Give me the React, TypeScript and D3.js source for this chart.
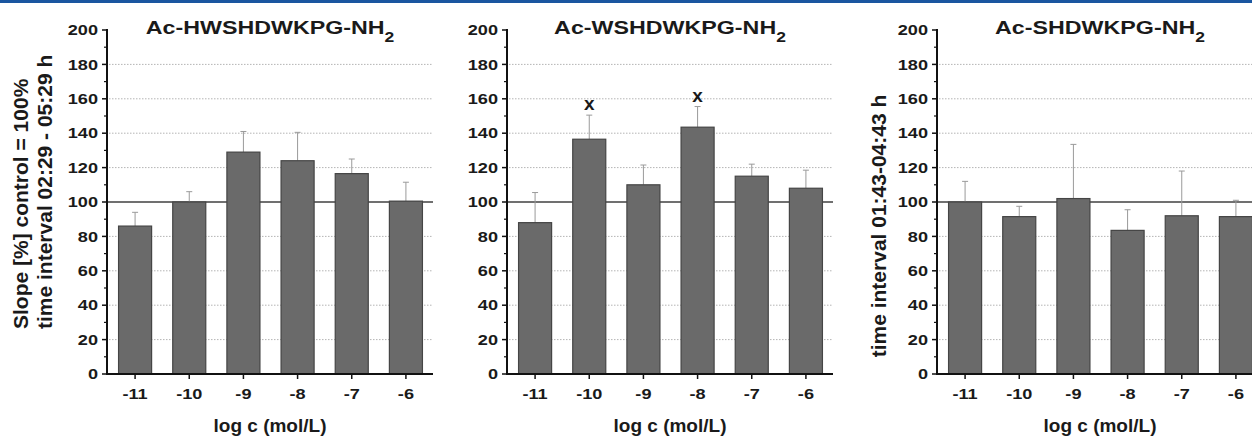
import React from "react";
import * as d3 from "d3";

const categories = ["-11", "-10", "-9", "-8", "-7", "-6"];
const titles = ["Ac-HWSHDWKPG-NH", "Ac-WSHDWKPG-NH", "Ac-SHDWKPG-NH"];
const means1 = [86, 100, 129, 124, 116.5, 100.5];
const sd1 = [8, 6, 12, 16.5, 8.5, 11];
const means2 = [88, 136.5, 110, 143.5, 115, 108];
const sd2 = [17.5, 14, 11.5, 12, 7, 10.5];
const means3 = [100, 91.5, 102, 83.5, 92, 91.5];
const sd3 = [12, 6, 31.5, 12, 26, 9.5];
const marks1 = ["", "", "", "", "", ""];
const marks2 = ["", "x", "", "x", "", ""];
const marks3 = ["", "", "", "", "", ""];
const yLabels1 = ["Slope [%] control = 100%", "time interval 02:29 - 05:29 h"];
const yLabels3 = ["time interval 01:43-04:43 h"];
const xLabel = "log c (mol/L)";
const majorTicks = d3.range(0, 201, 20);
const minorTicks = d3.range(10, 200, 20);
const gridTicks = [20, 40, 60, 80, 120, 140, 160, 180];
const refValue = 100;

const FONT = "'Liberation Sans', Arial, Helvetica, sans-serif";
const TOP = 30;
const BOTTOM = 374;
const PW = 326;
const SX = 1.25;

type PanelProps = {
  x0: number;
  title: string;
  means: number[];
  sds: number[];
  marks: string[];
};

function Panel({ x0, title, means, sds, marks }: PanelProps) {
  const y = d3.scaleLinear().domain([0, 200]).range([BOTTOM, TOP]);
  const x = d3
    .scaleBand<string>()
    .domain(categories)
    .range([x0 + 1, x0 + PW])
    .paddingInner(0.39)
    .paddingOuter(0.195);
  const bw = x.bandwidth();
  const cx = (x0 + x0 + PW) / 2;
  return (
    <g>
      {gridTicks.map((t) => (
        <line
          key={"g" + t}
          x1={x0 + 2}
          x2={x0 + PW}
          y1={y(t)}
          y2={y(t)}
          stroke="#b4b4b4"
          strokeWidth={1}
          strokeDasharray="1.5 1.5"
        />
      ))}
      <line x1={x0} x2={x0 + PW} y1={y(refValue)} y2={y(refValue)} stroke="#707070" strokeWidth={2.2} />
      {categories.map((c, i) => {
        const top = y(means[i]);
        const et = y(means[i] + sds[i]);
        const bx = x(c)!;
        const mx = bx + bw / 2;
        return (
          <g key={c}>
            <line x1={mx} x2={mx} y1={top} y2={et} stroke="#9a9a9a" strokeWidth={1} />
            <line x1={mx - 3} x2={mx + 3} y1={et} y2={et} stroke="#9a9a9a" strokeWidth={1} />
            <rect x={bx} y={top} width={bw} height={BOTTOM - top} fill="#6a6a6a" stroke="#454545" strokeWidth={1.2} />
            {marks[i] ? (
              <text x={mx} y={et - 5} textAnchor="middle" fontSize={19} fontWeight="bold" fontFamily={FONT} fill="#1a1a1a">
                {marks[i]}
              </text>
            ) : null}
          </g>
        );
      })}
      {/* y axis */}
      <line x1={x0} x2={x0} y1={y(200) - 1} y2={BOTTOM + 1} stroke="#111" strokeWidth={2} />
      {majorTicks.map((t) => (
        <g key={"mt" + t}>
          <line x1={x0 - 5} x2={x0} y1={y(t)} y2={y(t)} stroke="#111" strokeWidth={1.5} />
          <g transform={`translate(${x0 - 9},${y(t) + 5.2}) scale(${SX},1)`}>
            <text textAnchor="end" fontSize={14.5} fontWeight="bold" fontFamily={FONT} fill="#1a1a1a">
              {t}
            </text>
          </g>
        </g>
      ))}
      {minorTicks.map((t) => (
        <line key={"mn" + t} x1={x0 - 3} x2={x0} y1={y(t)} y2={y(t)} stroke="#111" strokeWidth={1.2} />
      ))}
      {/* x axis */}
      <line x1={x0 - 1} x2={x0 + PW} y1={BOTTOM} y2={BOTTOM} stroke="#111" strokeWidth={2} />
      {categories.map((c) => {
        const mx = x(c)! + bw / 2;
        return (
          <g key={"xt" + c}>
            <line x1={mx} x2={mx} y1={BOTTOM} y2={BOTTOM + 5} stroke="#111" strokeWidth={1.5} />
            <g transform={`translate(${mx},398.5) scale(${SX},1)`}>
              <text textAnchor="middle" fontSize={14.5} fontWeight="bold" fontFamily={FONT} fill="#1a1a1a">
                {c}
              </text>
            </g>
          </g>
        );
      })}
      <text x={cx} y={432} textAnchor="middle" fontSize={19} fontWeight="bold" fontFamily={FONT} fill="#1a1a1a">
        {xLabel}
      </text>
      <g transform={`translate(${cx},34) scale(${SX},1)`}>
        <text textAnchor="middle" fontSize={18.6} fontWeight="bold" fontFamily={FONT} fill="#1a1a1a">
          {title}
          <tspan dy={7.5} fontSize={14}>
            2
          </tspan>
        </text>
      </g>
    </g>
  );
}

export default function App() {
  return (
    <svg
      width={1252}
      height={436}
      style={{ position: "absolute", left: 0, top: 0, background: "#fff" }}
      xmlns="http://www.w3.org/2000/svg"
    >
      <rect x={0} y={0} width={1252} height={436} fill="#fff" />
      <rect x={0} y={0} width={1252} height={3} fill="#1a56a0" />
      <Panel x0={107} title={titles[0]} means={means1} sds={sd1} marks={marks1} />
      <Panel x0={507} title={titles[1]} means={means2} sds={sd2} marks={marks2} />
      <Panel x0={937} title={titles[2]} means={means3} sds={sd3} marks={marks3} />
      {yLabels1.map((l, i) => (
        <text
          key={l}
          transform={`translate(${27.5 + i * 24.5},329) rotate(-90)`}
          textAnchor="start"
          fontSize={21}
          fontWeight="bold"
          fontFamily={FONT}
          fill="#1a1a1a"
        >
          {l}
        </text>
      ))}
      {yLabels3.map((l) => (
        <text
          key={l}
          transform={`translate(886,226) rotate(-90)`}
          textAnchor="middle"
          fontSize={21}
          fontWeight="bold"
          fontFamily={FONT}
          fill="#1a1a1a"
        >
          {l}
        </text>
      ))}
    </svg>
  );
}
